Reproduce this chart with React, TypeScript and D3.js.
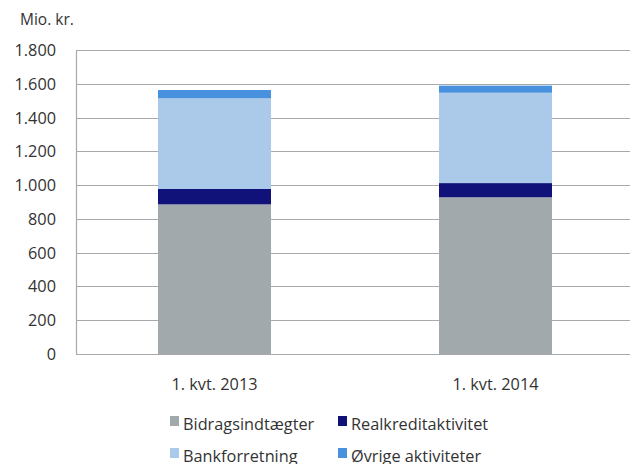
import React from "react";
import * as d3 from "d3";

const categories = ["1. kvt. 2013", "1. kvt. 2014"];
const seriesNames = ["Bidragsindtægter", "Realkreditaktivitet", "Bankforretning", "Øvrige aktiviteter"];
const bidrag = [886, 928];
const realkredit = [91, 84];
const bank = [537, 535];
const ovrige = [49, 42];
const yTicks = [0, 200, 400, 600, 800, 1000, 1200, 1400, 1600, 1800];
const colors = ["#A2A9AD", "#10127A", "#ABC9E9", "#4791DE"];

const W = 633, H = 464;
const left = 76, right = 630, top = 50, bottom = 354;

export default function App() {
  const y = d3.scaleLinear().domain([0, 1800]).range([bottom, top]);
  const x = d3.scalePoint().domain(categories).range([74, 636]).padding(0.5);
  const bandW = 113;
  const rows = categories.map((c, i) => ({ cat: c, bidrag: bidrag[i], realkredit: realkredit[i], bank: bank[i], ovrige: ovrige[i] }));
  const keys = ["bidrag", "realkredit", "bank", "ovrige"];
  const stack = d3.stack<any>().keys(keys)(rows);
  const font = "'Open Sans', sans-serif";
  const fs = 16.3;
  const legend = [
    { x: 170, y: 430, i: 0 },
    { x: 338, y: 430, i: 1 },
    { x: 170, y: 462, i: 2 },
    { x: 338, y: 462, i: 3 },
  ];
  return (
    <svg width={W} height={H} style={{ position: "absolute", left: 0, top: 0, background: "#fff" }} fontFamily={font}>
      <text x={20} y={25} fontSize={15.5} fill="#333">Mio. kr.</text>
      {yTicks.map((t) => (
        <g key={t}>
          <line x1={left} x2={right} y1={Math.round(y(t)) + 0.5} y2={Math.round(y(t)) + 0.5} stroke="#A6AAAD" strokeWidth={1.2} />
          <text x={56} y={y(t) + 6} textAnchor="end" fontSize={fs} fill="#333">{d3.format(",")(t).replace(/,/g, ".")}</text>
        </g>
      ))}
      <line x1={left + 0.5} x2={left + 0.5} y1={top} y2={bottom} stroke="#A6AAAD" strokeWidth={1.2} />
      {stack.map((s, k) => (
        <g key={k} fill={colors[k]}>
          {s.map((d, i) => (
            <rect key={i} x={(x(categories[i]) as number) - bandW / 2} width={bandW} y={y(d[1])} height={y(d[0]) - y(d[1])} />
          ))}
        </g>
      ))}
      {categories.map((c) => (
        <text key={c} x={x(c) as number} y={390} textAnchor="middle" fontSize={fs} fill="#333">{c}</text>
      ))}
      {legend.map((l) => (
        <g key={l.i}>
          <rect x={l.x} y={l.y - 14} width={9} height={10} fill={colors[l.i]} />
          <text x={l.x + 13} y={l.y} fontSize={fs} fill="#333">{seriesNames[l.i]}</text>
        </g>
      ))}
    </svg>
  );
}
